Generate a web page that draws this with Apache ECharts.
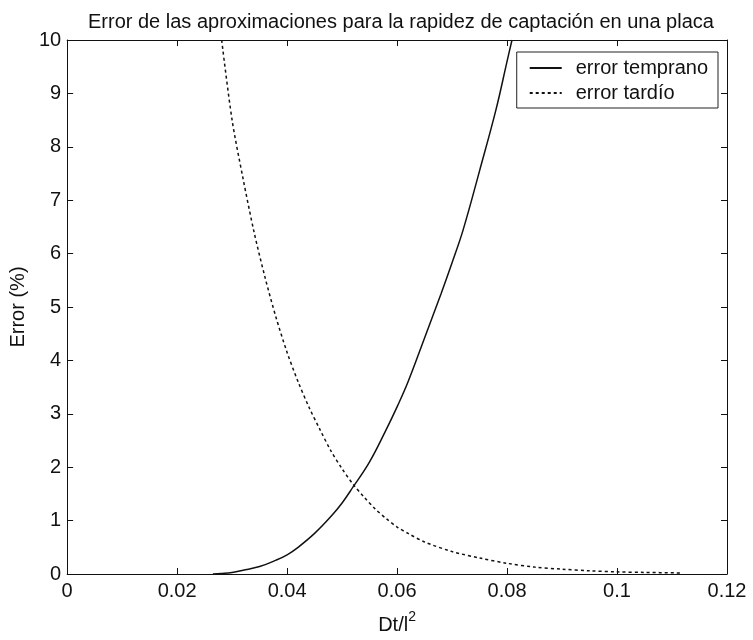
<!DOCTYPE html>
<html>
<head>
<meta charset="utf-8">
<script src="https://cdn.jsdelivr.net/npm/echarts@6/dist/echarts.min.js"></script>
<style>html,body{margin:0;padding:0;background:#fff}#c{width:753px;height:640px}</style>
</head>
<body>
<div id="c"></div>
<script>
var titleText = 'Error de las aproximaciones para la rapidez de captación en una placa';
var seriesNames = ['error temprano', 'error tardío'];
var xTicks = [0, 0.02, 0.04, 0.06, 0.08, 0.1, 0.12];
var yTicks = [0, 1, 2, 3, 4, 5, 6, 7, 8, 9, 10];

var earlyX = [0.0265, 0.028, 0.030, 0.032, 0.035, 0.038, 0.040, 0.042, 0.045, 0.048, 0.050, 0.052, 0.055, 0.058, 0.060, 0.062, 0.065, 0.068, 0.070, 0.072, 0.075, 0.078, 0.080, 0.0809];
var earlyY = [0, 0.01, 0.03, 0.07, 0.14, 0.26, 0.36, 0.5, 0.76, 1.08, 1.33, 1.63, 2.1, 2.7, 3.13, 3.6, 4.42, 5.25, 5.83, 6.44, 7.55, 8.7, 9.6, 10];

var lateX = [0.0281, 0.030, 0.032, 0.034, 0.036, 0.038, 0.040, 0.042, 0.044, 0.046, 0.048, 0.050, 0.052, 0.054, 0.056, 0.058, 0.060, 0.062, 0.065, 0.070, 0.075, 0.080, 0.085, 0.090, 0.095, 0.100, 0.105, 0.1115];
var lateY = [10, 8.5, 7.4, 6.4, 5.55, 4.8, 4.15, 3.6, 3.12, 2.7, 2.3, 1.97, 1.68, 1.44, 1.22, 1.04, 0.88, 0.76, 0.6, 0.42, 0.3, 0.2, 0.13, 0.09, 0.06, 0.04, 0.03, 0.02];

function pairs(xs, ys) { return xs.map(function (x, i) { return [x, ys[i]]; }); }

var FONT = 'Liberation Sans';
var INK = '#111';
var FS = 20;
var fmtX = function (v) { return String(+v.toFixed(4)); };

var chart = echarts.init(document.getElementById('c'), null, { renderer: 'canvas' });
chart.setOption({
  animation: false,
  backgroundColor: '#fff',
  textStyle: { fontFamily: FONT, color: INK },
  title: {
    text: titleText,
    left: 83,
    top: 7,
    textStyle: { fontFamily: FONT, fontSize: FS, fontWeight: 'normal', color: INK }
  },
  legend: {
    orient: 'vertical',
    right: 35,
    top: 52,
    padding: [6, 10, 5, 12],
    itemGap: 5,
    itemWidth: 32,
    itemHeight: 14,
    borderColor: '#222',
    borderWidth: 1,
    backgroundColor: '#fff',
    itemStyle: { opacity: 0 },
    textStyle: { fontFamily: FONT, fontSize: FS, color: INK, padding: [0, 0, 0, 9] },
    data: seriesNames
  },
  grid: { left: 66, right: 26, top: 40, bottom: 64, show: false },
  xAxis: [{
    type: 'value', min: 0, max: 0.12, interval: 0.02,
    name: '{a|Dt/l}{s|2}', nameLocation: 'middle', nameGap: 36,
    nameTextStyle: { rich: { a: { fontFamily: FONT, fontSize: FS, color: INK, verticalAlign: 'bottom' }, s: { fontFamily: FONT, fontSize: 14, color: INK, verticalAlign: 'top', padding: [0, 0, 11, 0] } } },
    axisLine: { show: true, onZero: false, lineStyle: { color: INK, width: 1 } },
    axisTick: { show: true, inside: true, length: 6, lineStyle: { color: INK } },
    axisLabel: { fontFamily: FONT, fontSize: FS, color: INK, margin: 7, formatter: fmtX },
    splitLine: { show: false }
  }, {
    type: 'value', position: 'top', min: 0, max: 0.12, interval: 0.02,
    axisLine: { show: true, onZero: false, lineStyle: { color: INK, width: 1 } },
    axisTick: { show: true, inside: true, length: 6, lineStyle: { color: INK } },
    axisLabel: { show: false }, splitLine: { show: false }
  }],
  yAxis: [{
    type: 'value', min: 0, max: 10, interval: 1,
    name: 'Error (%)', nameLocation: 'middle', nameGap: 36, nameRotate: 90,
    nameTextStyle: { fontFamily: FONT, fontSize: FS, color: INK },
    axisLine: { show: true, onZero: false, lineStyle: { color: INK, width: 1 } },
    axisTick: { show: true, inside: true, length: 6, lineStyle: { color: INK } },
    axisLabel: { fontFamily: FONT, fontSize: FS, color: INK, margin: 6 },
    splitLine: { show: false }
  }, {
    type: 'value', position: 'right', min: 0, max: 10, interval: 1,
    axisLine: { show: true, onZero: false, lineStyle: { color: INK, width: 1 } },
    axisTick: { show: true, inside: true, length: 6, lineStyle: { color: INK } },
    axisLabel: { show: false }, splitLine: { show: false }
  }],
  series: [{
    name: seriesNames[0], type: 'line', smooth: 0.4, symbol: 'none', clip: true,
    data: pairs(earlyX, earlyY),
    lineStyle: { color: INK, width: 1.5, type: 'solid' },
    itemStyle: { color: INK }
  }, {
    name: seriesNames[1], type: 'line', smooth: 0.3, symbol: 'none', clip: true,
    data: pairs(lateX, lateY),
    lineStyle: { color: INK, width: 1.5, type: [3, 3] },
    itemStyle: { color: INK }
  }]
});
</script>
</body>
</html>
